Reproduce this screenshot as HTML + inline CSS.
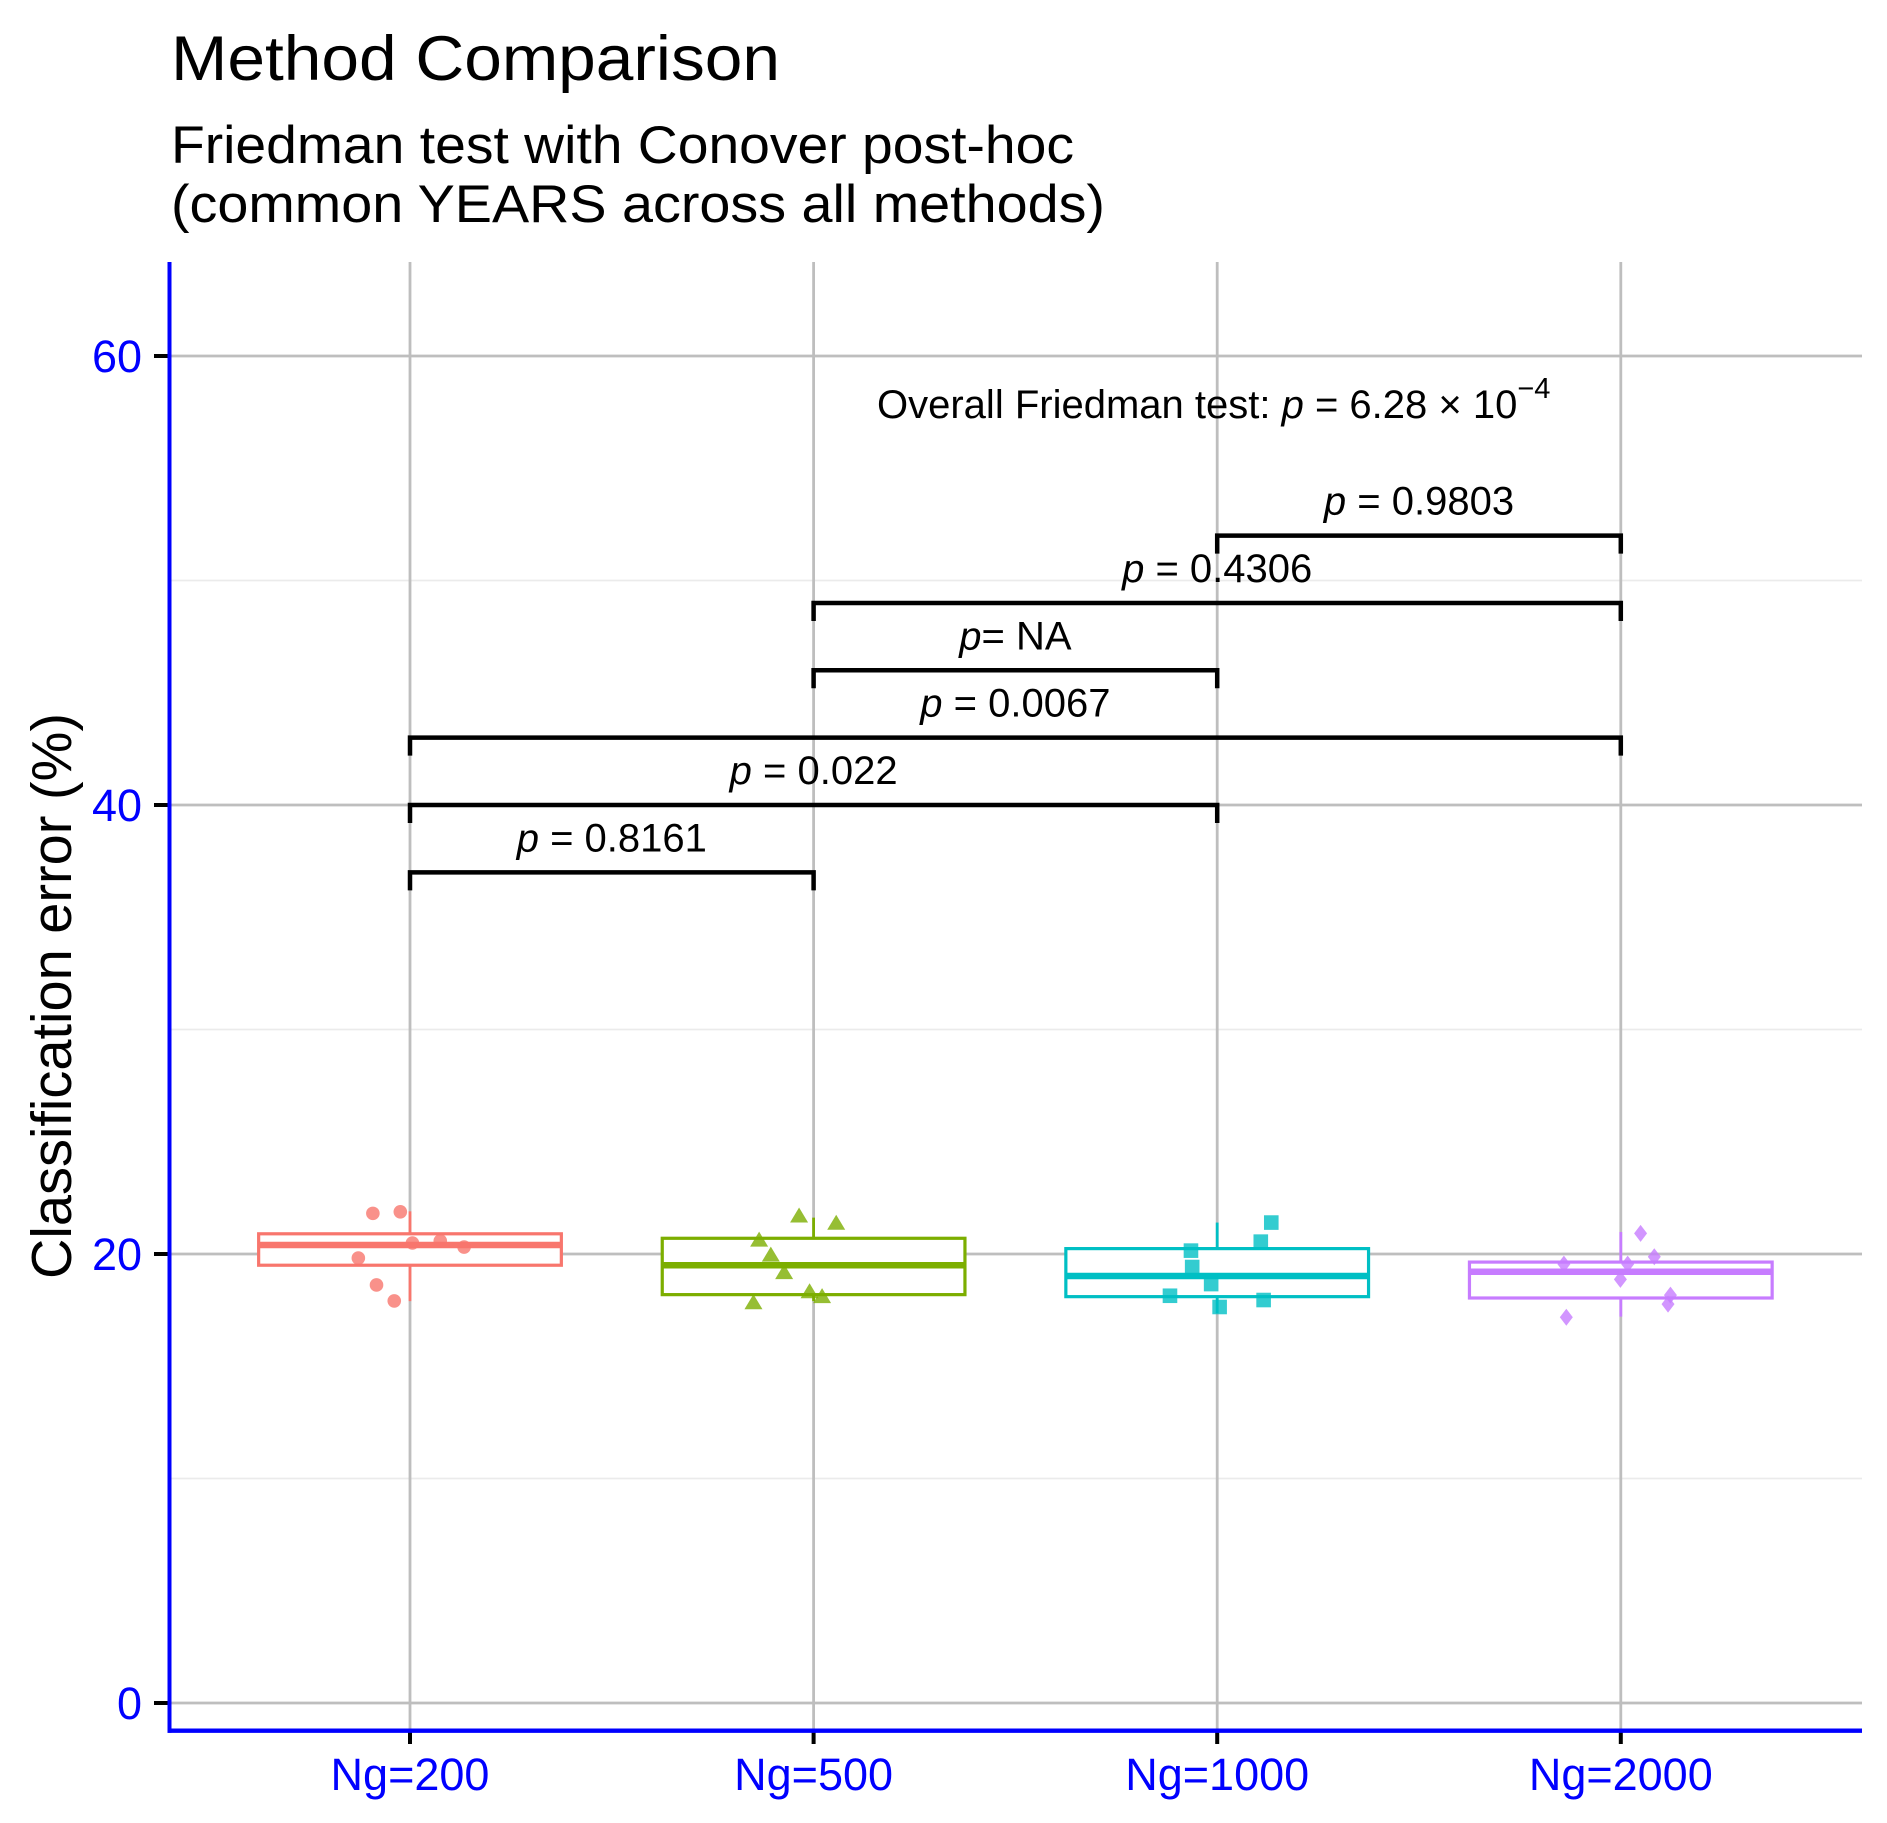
<!DOCTYPE html>
<html><head><meta charset="utf-8"><title>Method Comparison</title>
<style>
html,body{margin:0;padding:0;background:#fff;}
svg{display:block;font-family:"Liberation Sans",Arial,sans-serif;}
</style></head>
<body>
<svg id="chart" width="1887" height="1823" viewBox="0 0 1887 1823" xmlns="http://www.w3.org/2000/svg">
  <text x="171" y="80" font-size="63" textLength="609" lengthAdjust="spacingAndGlyphs" fill="#000">Method Comparison</text>
  <text x="171" y="163" font-size="53" textLength="903" lengthAdjust="spacingAndGlyphs" fill="#000">Friedman test with Conover post-hoc</text>
  <text x="171" y="222" font-size="53" textLength="934" lengthAdjust="spacingAndGlyphs" fill="#000">(common YEARS across all methods)</text>
  <g id="grid"></g>
  <g id="marks"></g>
  <g id="annot"></g>
  <g id="axes"></g>
  <text transform="translate(71,996) rotate(-90)" text-anchor="middle" font-size="57" textLength="566" lengthAdjust="spacingAndGlyphs" fill="#000">Classification error (%)</text>
</svg>
<script>
// ---- data ----
const categories = ["Ng=200", "Ng=500", "Ng=1000", "Ng=2000"];
const colors = ["#F8766D", "#7CAE00", "#00BFC4", "#C77CFF"];
const shapes = ["circle", "triangle", "square", "diamond"];
const boxQ1 = [19.5, 18.19, 18.1, 18.04];
const boxMedian = [20.4, 19.5, 19.02, 19.21];
const boxQ3 = [20.9, 20.7, 20.24, 19.64];
const whiskerLow = [17.9, 17.9, 17.37, 17.21];
const whiskerHigh = [21.9, 21.62, 21.4, 20.98];
const pointsG1 = [21.81, 21.88, 19.82, 20.49, 20.58, 20.31, 18.62, 17.91];
const jitterG1 = [-0.092, -0.024, -0.128, 0.006, 0.075, 0.134, -0.083, -0.039];
const pointsG2 = [21.69, 21.37, 20.62, 19.95, 19.17, 18.32, 18.1, 17.83];
const jitterG2 = [-0.036, 0.056, -0.135, -0.106, -0.073, -0.010, 0.021, -0.149];
const pointsG3 = [20.15, 21.4, 20.55, 19.42, 18.66, 18.14, 17.95, 17.64];
const jitterG3 = [-0.065, 0.134, 0.108, -0.062, -0.015, -0.117, 0.115, 0.006];
const pointsG4 = [20.92, 19.88, 19.55, 19.55, 18.87, 18.17, 17.77, 17.18];
const jitterG4 = [0.049, 0.083, -0.141, 0.017, -0.001, 0.123, 0.117, -0.135];
const yMajorTicks = [0, 20, 40, 60];
const yTickLabels = ["0", "20", "40", "60"];
const yMinorTicks = [10, 30, 50];
const bracketFrom = [0, 0, 0, 1, 1, 2];
const bracketTo = [1, 2, 3, 2, 3, 3];
const bracketY = [37, 40, 43, 46, 49, 52];
const bracketP = ["0.8161", "0.022", "0.0067", "NA", "0.4306", "0.9803"];
const overallP = "6.28";
const overallExp = "\u22124";

// ---- scales ----
const X0 = 410, XSTEP = 403.6, Y0 = 1703, YPER = 22.45;
const PLOT_L = 169.5, PLOT_R = 1862, PLOT_T = 262, PLOT_B = 1730.7;
function xScale(i){ return X0 + i * XSTEP; }
function yScale(v){ return Y0 - v * YPER; }
const NS = "http://www.w3.org/2000/svg";
function mk(tag, attrs, parent){
  const e = document.createElementNS(NS, tag);
  for (const k in attrs) e.setAttribute(k, attrs[k]);
  parent.appendChild(e);
  return e;
}
const grid = document.getElementById("grid");
const marks = document.getElementById("marks");
const annot = document.getElementById("annot");
const axes = document.getElementById("axes");

// grid
yMinorTicks.forEach(v => {
  const l = mk("line", {x1: PLOT_L, x2: PLOT_R, y1: yScale(v), y2: yScale(v), stroke: "#ebebeb", "stroke-width": 1.8}, grid);
  
  
});
yMajorTicks.forEach(v => {
  const l = mk("line", {x1: PLOT_L, x2: PLOT_R, y1: yScale(v), y2: yScale(v), stroke: "#bebebe", "stroke-width": 2.8}, grid);
  
  
});
categories.forEach((c, i) => {
  const l = mk("line", {x1: xScale(i), x2: xScale(i), y1: PLOT_T, y2: PLOT_B, stroke: "#bebebe", "stroke-width": 2.8}, grid);
  
  
});

// boxes
const HALF = 0.375 * XSTEP;
const allPoints = [pointsG1, pointsG2, pointsG3, pointsG4];
const allJitter = [jitterG1, jitterG2, jitterG3, jitterG4];
categories.forEach((c, i) => {
  const g = mk("g", {}, marks);
  
  
  const cx = xScale(i), col = colors[i];
  const wu = mk("line", {x1: cx, x2: cx, y1: yScale(boxQ3[i]), y2: yScale(whiskerHigh[i]), stroke: col, "stroke-width": 2.8}, g);
  
  
  const wl = mk("line", {x1: cx, x2: cx, y1: yScale(boxQ1[i]), y2: yScale(whiskerLow[i]), stroke: col, "stroke-width": 2.8}, g);
  
  
  const r = mk("rect", {x: cx - HALF, width: 2 * HALF, y: yScale(boxQ3[i]), height: yScale(boxQ1[i]) - yScale(boxQ3[i]), fill: "#fff", stroke: col, "stroke-width": 3.2}, g);
  
  
  const m = mk("line", {x1: cx - HALF, x2: cx + HALF, y1: yScale(boxMedian[i]), y2: yScale(boxMedian[i]), stroke: col, "stroke-width": 6.5}, g);
  
  
  const pts = allPoints[i], jit = allJitter[i];
  pts.forEach((v, k) => {
    const px = cx + jit[k] * XSTEP, py = yScale(v);
    let p;
    if (shapes[i] === "circle") p = mk("circle", {cx: px, cy: py, r: 6.8}, g);
    else if (shapes[i] === "triangle") p = mk("polygon", {points: `${px},${py-8.5} ${px-9},${py+6.5} ${px+9},${py+6.5}`}, g);
    else if (shapes[i] === "square") p = mk("rect", {x: px - 7.3, y: py - 7.3, width: 14.6, height: 14.6}, g);
    else p = mk("polygon", {points: `${px},${py-8.5} ${px+6.5},${py} ${px},${py+8.5} ${px-6.5},${py}`}, g);
    p.setAttribute("fill", col);
    p.setAttribute("fill-opacity", "0.8");
    
    
  });
});

// brackets
bracketY.forEach((v, j) => {
  const x1 = xScale(bracketFrom[j]), x2 = xScale(bracketTo[j]), y = yScale(v);
  const b = mk("path", {d: `M${x1},${y+18} L${x1},${y} L${x2},${y} L${x2},${y+18}`, fill: "none", stroke: "#000", "stroke-width": 4.5}, annot);
  
  
  const t = mk("text", {x: (x1 + x2) / 2, y: y - 21, "text-anchor": "middle", "font-size": 40, fill: "#000"}, annot);
  
  
  const ti = mk("tspan", {"font-style": "italic"}, t); ti.textContent = "p";
  const rest = mk("tspan", {}, t);
  rest.textContent = bracketP[j] === "NA" ? "= NA" : " = " + bracketP[j];
});
const ov = mk("text", {x: 877, y: 418, "font-size": 40, fill: "#000"}, annot);


const o1 = mk("tspan", {}, ov); o1.textContent = "Overall Friedman test: ";
const o2 = mk("tspan", {"font-style": "italic"}, ov); o2.textContent = "p";
const o3 = mk("tspan", {}, ov); o3.textContent = " = " + overallP + " \u00d7 10";
const o4 = mk("tspan", {"font-size": 29, dy: -20}, ov); o4.textContent = overallExp;

// axes
yMajorTicks.forEach((v, k) => {
  const t = mk("line", {x1: 154, x2: 169, y1: yScale(v), y2: yScale(v), stroke: "#000", "stroke-width": 4}, axes);
  
  
  const l = mk("text", {x: 142, y: yScale(v) + 16, "text-anchor": "end", "font-size": 45, fill: "#0000ff"}, axes);
  l.textContent = yTickLabels[k];
  
  
});
categories.forEach((c, i) => {
  const t = mk("line", {x1: xScale(i), x2: xScale(i), y1: 1731, y2: 1744, stroke: "#000", "stroke-width": 4}, axes);
  
  
  const l = mk("text", {x: xScale(i), y: 1790, "text-anchor": "middle", "font-size": 45, fill: "#0000ff"}, axes);
  l.textContent = c;
  
  
});
const ya = mk("line", {x1: PLOT_L, x2: PLOT_L, y1: PLOT_T, y2: PLOT_B + 2, stroke: "#0000ff", "stroke-width": 4}, axes);


const xa = mk("line", {x1: PLOT_L - 2, x2: PLOT_R, y1: PLOT_B, y2: PLOT_B, stroke: "#0000ff", "stroke-width": 4.3}, axes);


</script>
</body></html>
